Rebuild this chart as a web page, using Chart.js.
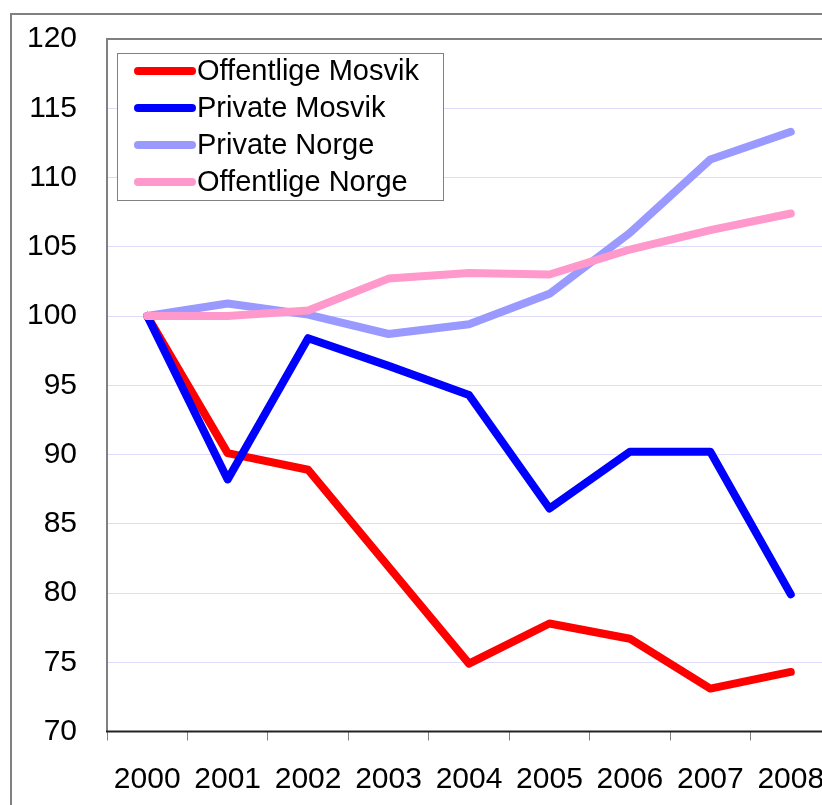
<!DOCTYPE html>
<html>
<head>
<meta charset="utf-8">
<title>Mosvik / Norge</title>
<script src="https://cdn.jsdelivr.net/npm/chart.js@4"></script>
<style>
  html, body { margin: 0; padding: 0; background: #fff; overflow: hidden; }
  #wrap { width: 850px; height: 805px; }
</style>
</head>
<body>
<div id="wrap"><canvas id="chart" width="850" height="805"></canvas></div>
<script>
  // ===== Data =====
  const years = ['2000', '2001', '2002', '2003', '2004', '2005', '2006', '2007', '2008'];
  const offentligeMosvik = [100, 90.1, 88.9, 81.9, 74.9, 77.8, 76.7, 73.1, 74.3];
  const privateMosvik    = [100, 88.2, 98.4, 96.4, 94.3, 86.1, 90.2, 90.2, 79.9];
  const privateNorge     = [100, 100.9, 100.1, 98.7, 99.4, 101.6, 106.0, 111.3, 113.3];
  const offentligeNorge  = [100, 100.0, 100.4, 102.7, 103.1, 103.0, 104.8, 106.2, 107.4];
  const seriesNames  = ['Offentlige Mosvik', 'Private Mosvik', 'Private Norge', 'Offentlige Norge'];
  const seriesColors = ['#ff0000', '#0000ff', '#9999ff', '#ff99cc'];
  const yMin = 70, yMax = 120, yStep = 5;

  const FONT = "'Liberation Sans', Arial, sans-serif";
  Chart.defaults.font.family = FONT;
  Chart.defaults.color = '#000';

  // ===== Frames + legend =====
  const frames = {
    id: 'frames',
    beforeDraw(chart) {
      const ctx = chart.ctx;
      ctx.save();
      ctx.strokeStyle = '#808080';
      ctx.lineWidth = 2;
      // outer chart frame (runs off the picture)
      ctx.beginPath();
      ctx.moveTo(11, 900);
      ctx.lineTo(11, 14);
      ctx.lineTo(900, 14);
      ctx.stroke();
      ctx.restore();
    },
    afterDraw(chart) {
      const ctx = chart.ctx;
      const a = chart.chartArea;
      ctx.save();
      ctx.strokeStyle = '#808080';
      ctx.lineWidth = 2;
      ctx.beginPath();
      ctx.moveTo(a.left, a.bottom);
      ctx.lineTo(a.left, a.top);
      ctx.lineTo(a.right, a.top);
      ctx.lineTo(a.right, a.bottom);
      ctx.stroke();
      ctx.strokeStyle = '#222';
      ctx.beginPath();
      ctx.moveTo(a.left - 1, a.bottom);
      ctx.lineTo(a.right, a.bottom);
      ctx.stroke();

      // legend
      const lx = 117, ly = 53, lw = 326, lh = 147;
      ctx.fillStyle = '#fff';
      ctx.fillRect(lx, ly, lw, lh);
      ctx.strokeStyle = '#808080';
      ctx.lineWidth = 1;
      ctx.strokeRect(lx + 0.5, ly + 0.5, lw, lh);
      ctx.font = '29px ' + FONT;
      ctx.textBaseline = 'middle';
      ctx.textAlign = 'left';
      chart.data.datasets.forEach((ds, i) => {
        const y = 71 + i * 37;
        ctx.strokeStyle = ds.borderColor;
        ctx.lineWidth = 8;
        ctx.lineCap = 'round';
        ctx.beginPath();
        ctx.moveTo(138, y);
        ctx.lineTo(192, y);
        ctx.stroke();
        ctx.fillStyle = '#000';
        ctx.fillText(ds.label, 197, y + 1);
      });
      ctx.restore();
    }
  };

  const seriesData = [offentligeMosvik, privateMosvik, privateNorge, offentligeNorge];
  const datasets = seriesNames.map((name, i) => ({
    label: name,
    data: seriesData[i],
    borderColor: seriesColors[i],
    backgroundColor: seriesColors[i],
    borderWidth: 8,
    borderCapStyle: 'round',
    borderJoinStyle: 'round',
    pointRadius: 0,
    tension: 0,
    order: seriesNames.length - i
  }));

  new Chart(document.getElementById('chart'), {
    type: 'line',
    data: { labels: years, datasets },
    plugins: [frames],
    options: {
      responsive: false,
      devicePixelRatio: 1,
      animation: false,
      layout: { padding: { top: 39, right: 19, left: 0, bottom: 0 } },
      plugins: { legend: { display: false }, tooltip: { enabled: false } },
      scales: {
        x: {
          offset: true,
          afterFit(scale) { scale.height = 73.5; },
          border: { display: false },
          grid: { offset: true, drawOnChartArea: false, tickLength: 9, color: '#808080', lineWidth: 1 },
          ticks: { padding: 21, maxRotation: 0, autoSkip: false, font: { size: 30 }, color: '#000' }
        },
        y: {
          min: yMin,
          max: yMax,
          afterFit(scale) { scale.width = 107; },
          border: { display: false },
          grid: { tickLength: 30, tickColor: 'rgba(0,0,0,0)', color: '#dedcf8', lineWidth: 1 },
          ticks: { stepSize: yStep, padding: 0, font: { size: 30 }, color: '#000' }
        }
      }
    }
  });
</script>
</body>
</html>
